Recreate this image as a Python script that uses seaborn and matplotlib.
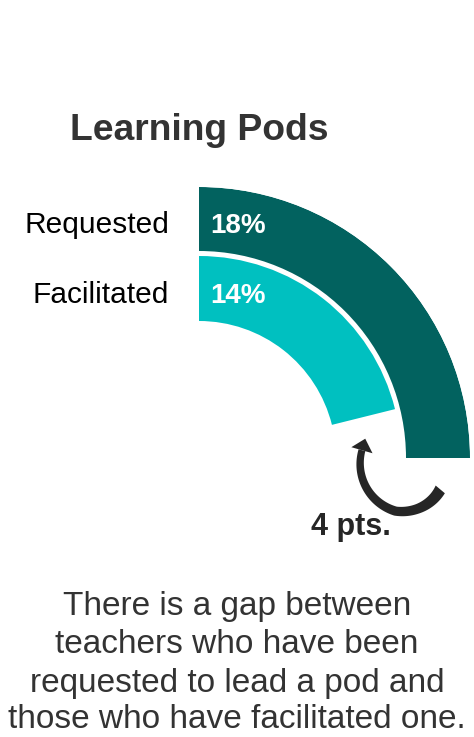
import numpy as np
import seaborn as sns
import matplotlib.pyplot as plt

# data
categories = ['Requested', 'Facilitated']
pct_labels = ['18%', '14%']
# arc lengths as drawn in the reference (outer arc = full quarter turn)
arc_values = [18, 15.2]
arc_full = 18
colors = ['#02625f', '#00c0c0']
gap_label = '4 pts.'
title = 'Learning Pods'
note_lines = ['There is a gap between',
              'teachers who have been',
              'requested to lead a pod and',
              'those who have facilitated one.']

sns.set_theme(style='white')
plt.rcParams['font.family'] = ['Liberation Sans', 'DejaVu Sans']

W, H = 474, 737
fig = plt.figure(figsize=(W / 100, H / 100), dpi=100)

# polar axes centred at pixel (199, 458), radius 271 px
cx, cy, R = 199, 458, 271
ax = fig.add_axes([(cx - R) / W, (H - cy - R) / H, 2 * R / W, 2 * R / H],
                  projection='polar')
ax.set_theta_zero_location('N')
ax.set_theta_direction(-1)
ax.set_ylim(0, R)
ax.axis('off')

# ring radii (px): outer ring 207-271, inner ring 137-202
rings = [(207, 64), (137, 65)]
for val, (bottom, height), col in zip(arc_values, rings, colors):
    width = val / arc_full * np.pi / 2
    ax.bar(0, height, width=width, bottom=bottom, align='edge',
           color=col, edgecolor='none', linewidth=0)

# overlay in pixel coordinates for text and arrow
ov = fig.add_axes([0, 0, 1, 1])
ov.set_xlim(0, W)
ov.set_ylim(H, 0)
ov.axis('off')

ov.text(199, 140, title, ha='center', va='baseline', fontsize=26.8,
        fontweight='bold', color='#333333')

baselines = [233, 303]
for cat, lab, yb in zip(categories, pct_labels, baselines):
    ov.text(169, yb, cat, ha='right', va='baseline', fontsize=21.5, color='black')
    ov.text(210, yb, lab, ha='left', va='baseline', fontsize=20,
            fontweight='bold', color='white')

# curved arrow (spiral-ish body + head) showing the gap
acx, acy = 410, 464
th = np.radians(np.linspace(40, 196, 80))
r = np.interp(np.degrees(th), [40, 107, 196], [39.5, 49.3, 50])
w = np.interp(np.degrees(th), [40, 80, 196], [12, 10, 7])
outer = np.c_[acx + (r + w / 2) * np.cos(th), acy + (r + w / 2) * np.sin(th)]
inner = np.c_[acx + (r - w / 2) * np.cos(th), acy + (r - w / 2) * np.sin(th)]
body = np.vstack([outer, inner[::-1]])
ov.fill(body[:, 0], body[:, 1], color='#262626', lw=0)
t_end = th[-1]
base = np.array([acx + r[-1] * np.cos(t_end), acy + r[-1] * np.sin(t_end)])
tang = np.array([-np.sin(t_end), np.cos(t_end)])
norm = np.array([np.cos(t_end), np.sin(t_end)])
head = np.array([base + 11 * norm, base + 12 * tang, base - 11 * norm])
ov.fill(head[:, 0], head[:, 1], color='#262626', lw=0)

ov.text(311, 535, gap_label, ha='left', va='baseline', fontsize=22,
        fontweight='bold', color='#262626')

for line, yb in zip(note_lines, [615, 653, 692, 728]):
    ov.text(237, yb, line, ha='center', va='baseline', fontsize=24, color='#333333')

fig.savefig('out.png', dpi=100)
